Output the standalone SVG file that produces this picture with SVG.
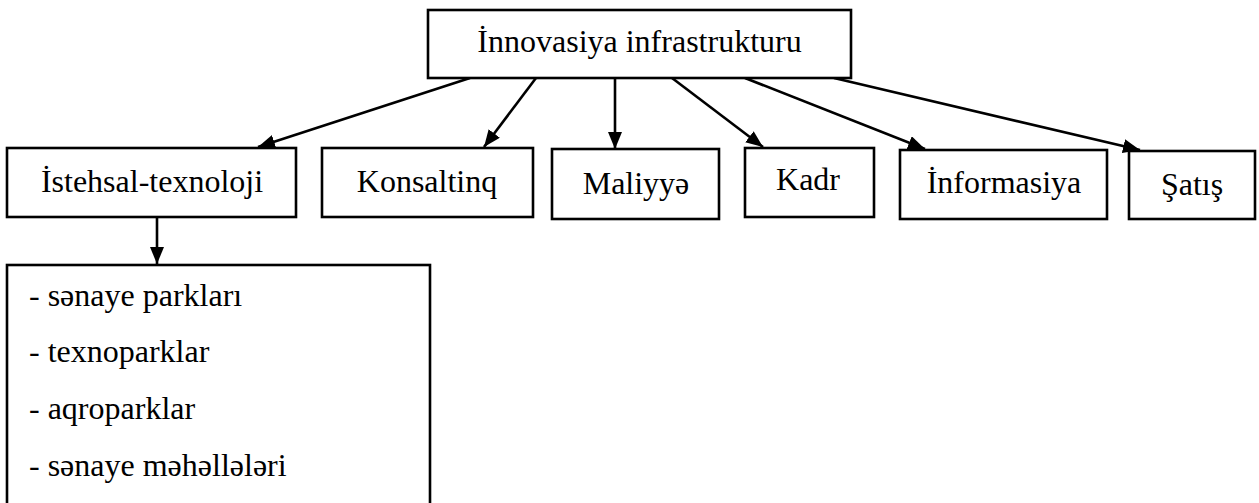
<svg xmlns="http://www.w3.org/2000/svg" width="1259" height="503" viewBox="0 0 1259 503">
<style>
  .box { fill: #ffffff; stroke: #000000; stroke-width: 2.6; }
  .t { font-family: 'Liberation Serif', 'Times New Roman', Tinos, 'DejaVu Serif', serif; font-size: 32px; fill: #000000; }
  .c { text-anchor: middle; }
  .conn { stroke: #000000; stroke-width: 2.6; fill: none; marker-end: url(#arrow); }
</style>
<defs>
  <marker id="arrow" viewBox="0 0 17 14" refX="17" refY="7" markerWidth="17" markerHeight="14" markerUnits="userSpaceOnUse" orient="auto">
    <path d="M0,0 L17,7 L0,14 Z" fill="#000000"/>
  </marker>
</defs>
<rect width="1259" height="503" fill="#ffffff"/>
<g id="connectors">
  <line class="conn" x1="470" y1="78" x2="258" y2="147"/>
  <line class="conn" x1="536" y1="78" x2="484" y2="147"/>
  <line class="conn" x1="615" y1="78" x2="615" y2="149"/>
  <line class="conn" x1="672" y1="78" x2="763" y2="147"/>
  <line class="conn" x1="745" y1="78" x2="925" y2="149"/>
  <line class="conn" x1="834" y1="78" x2="1140" y2="150"/>
  <line class="conn" x1="157" y1="217" x2="157" y2="264"/>
</g>
<g id="node-innovasiya">
  <rect class="box" x="428" y="10" width="423" height="68"/>
  <text class="t c" x="639.5" y="52">İnnovasiya infrastrukturu</text>
</g>
<g id="node-istehsal">
  <rect class="box" x="7" y="148" width="289" height="69"/>
  <text class="t c" x="152" y="192">İstehsal-texnoloji</text>
</g>
<g id="node-konsaltinq">
  <rect class="box" x="322" y="148" width="211" height="69"/>
  <text class="t c" x="427" y="192">Konsaltinq</text>
</g>
<g id="node-maliyye">
  <rect class="box" x="552" y="149" width="167" height="70"/>
  <text class="t c" x="636" y="194">Maliyyə</text>
</g>
<g id="node-kadr">
  <rect class="box" x="745" y="148" width="129" height="69"/>
  <text class="t c" x="808" y="190">Kadr</text>
</g>
<g id="node-informasiya">
  <rect class="box" x="900" y="150" width="207" height="69"/>
  <text class="t c" x="1004" y="193">İnformasiya</text>
</g>
<g id="node-satis">
  <rect class="box" x="1129" y="151" width="126" height="68"/>
  <text class="t c" x="1192" y="195">Şatış</text>
</g>
<g id="node-parks">
  <rect class="box" x="7" y="265" width="423" height="250"/>
  <text class="t" x="29" y="306">- sənaye parkları</text>
  <text class="t" x="29" y="362">- texnoparklar</text>
  <text class="t" x="29" y="419">- aqroparklar</text>
  <text class="t" x="29" y="476">- sənaye məhəllələri</text>
</g>
</svg>
